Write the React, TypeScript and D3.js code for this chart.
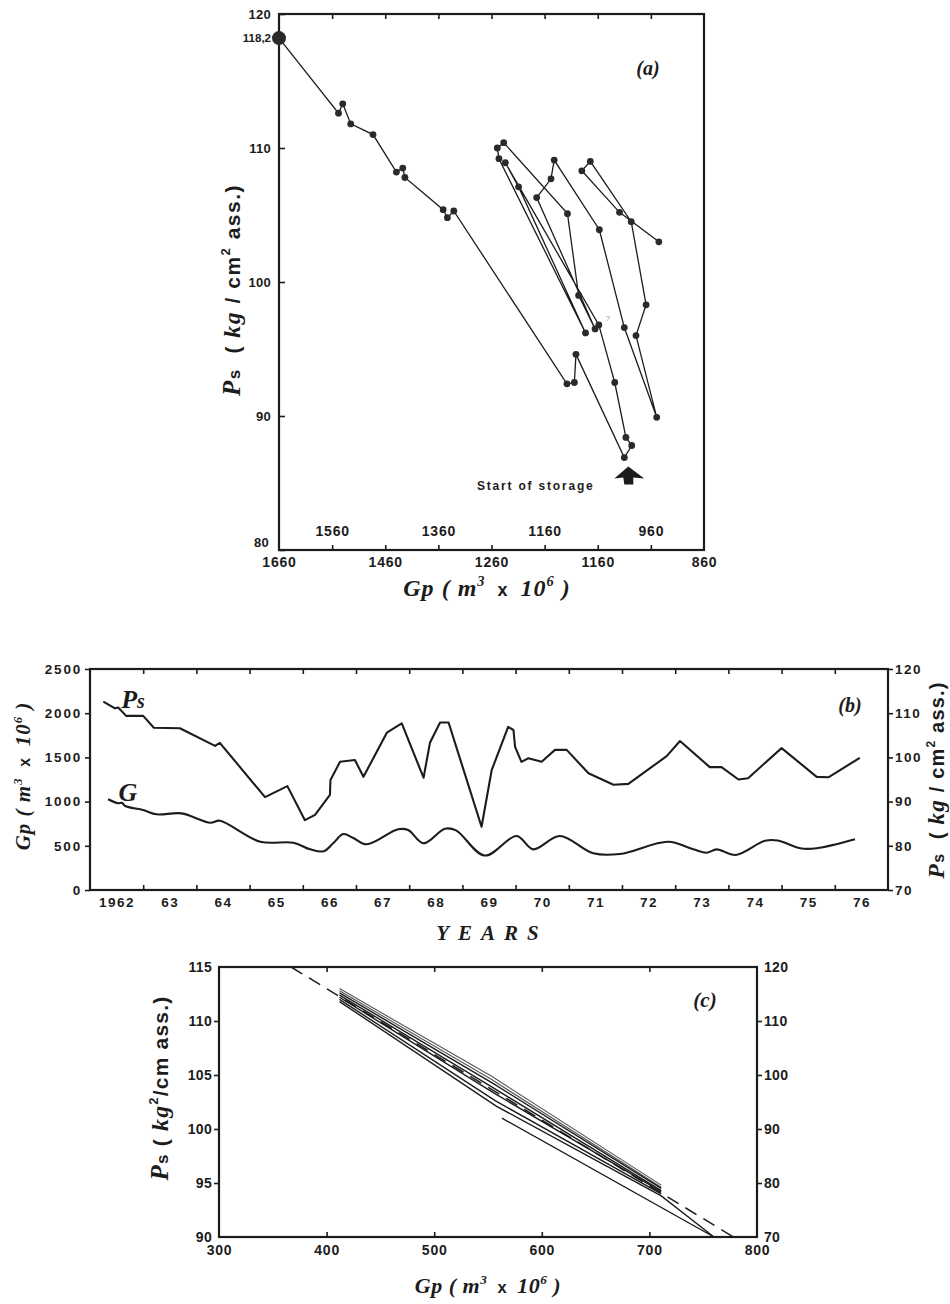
import React, { useEffect, useRef } from 'react';
import * as d3 from 'd3';

const INK = '#1c1c1c';
const SERIF = "'Liberation Serif', 'DejaVu Serif', serif";
const SANS = "'Liberation Sans', 'DejaVu Sans', Arial, sans-serif";

// ---- panel (a): reservoir pressure vs produced gas
// depletion phase, ends at the start of storage
const depletionGp = [1660, 1548, 1540, 1525, 1483, 1439, 1427, 1423, 1351, 1343, 1331, 1118, 1104, 1101, 1010];
const depletionPs = [118.2, 112.6, 113.3, 111.8, 111.0, 108.2, 108.5, 107.8, 105.4, 104.8, 105.3, 92.4, 92.5, 94.6, 86.9];
// storage cycles, continuing from the last depletion point
const storageGp = [996, 1007, 1028, 1058, 1234, 1209, 1083, 1246, 1249, 1237, 1117, 1096, 1065, 1175, 1148, 1142, 1057, 1010, 949, 988, 969, 997, 1074, 1090, 1019, 945];
const storagePs = [87.8, 88.4, 92.5, 96.8, 108.9, 107.1, 96.2, 109.2, 110.0, 110.4, 105.1, 99.0, 96.5, 106.3, 107.7, 109.1, 103.9, 96.6, 89.9, 96.0, 98.3, 104.5, 109.0, 108.3, 105.2, 103.0];
const aTickMarks = [1560, 1460, 1360, 1260, 1160, 1060, 960];
const aBottomTicks = [1660, 1460, 1260, 1060, 860];
const aBottomLabels = ['1660', '1460', '1260', '1160', '860'];
const aInnerTicks = [1560, 1360, 1160, 960];
const aYTicks = [120, 110, 100, 90, 80];

// ---- panel (b): time series
const psYear = [1962.25, 1962.47, 1962.53, 1962.68, 1963.0, 1963.2, 1963.69, 1964.35, 1964.44, 1965.29, 1965.71, 1966.04, 1966.23, 1966.51, 1966.52, 1966.7, 1966.98, 1967.14, 1967.58, 1967.86, 1968.27, 1968.39, 1968.58, 1968.74, 1969.36, 1969.55, 1969.86, 1969.96, 1969.99, 1970.11, 1970.24, 1970.49, 1970.74, 1970.96, 1971.37, 1971.84, 1972.12, 1972.84, 1973.09, 1973.65, 1973.87, 1974.19, 1974.37, 1975.0, 1975.66, 1975.88, 1976.47];
const psValue = [112.6, 111.1, 111.3, 109.4, 109.4, 106.7, 106.6, 102.6, 103.3, 91.0, 93.5, 85.8, 87.0, 91.5, 94.9, 99.0, 99.4, 95.6, 105.6, 107.7, 95.4, 103.3, 107.9, 107.9, 84.3, 97.1, 106.9, 106.2, 102.4, 99.0, 99.8, 99.0, 101.7, 101.7, 96.4, 93.8, 94.0, 100.3, 103.7, 97.8, 97.8, 95.0, 95.3, 102.1, 95.6, 95.5, 99.9];
const gYear = [1962.34, 1962.53, 1962.6, 1962.66, 1963.0, 1963.25, 1963.72, 1964.26, 1964.44, 1965.2, 1965.82, 1966.14, 1966.39, 1966.57, 1966.76, 1966.95, 1967.2, 1967.79, 1967.98, 1968.27, 1968.67, 1968.88, 1969.42, 1970.02, 1970.33, 1970.83, 1971.46, 1971.96, 1972.87, 1973.34, 1973.59, 1973.78, 1974.14, 1974.69, 1974.93, 1975.35, 1975.66, 1976.38];
const gValue = [1026, 981, 987, 950, 905, 856, 867, 761, 784, 546, 535, 460, 438, 528, 633, 588, 517, 687, 679, 528, 693, 675, 390, 611, 460, 611, 415, 407, 546, 460, 422, 460, 396, 558, 560, 472, 472, 573];
const yearLabels = ['1962', '63', '64', '65', '66', '67', '68', '69', '70', '71', '72', '73', '74', '75', '76'];
const bLeftTicks = [0, 500, 1000, 1500, 2000, 2500];
const bRightTicks = [70, 80, 90, 100, 110, 120];

// ---- panel (c): Ps vs Gp for every storage year
const cLineGp = [
  [412, 553, 711],
  [412, 553, 711],
  [412, 555, 711],
  [412, 555, 711],
  [412, 556, 711],
  [412, 557, 711],
  [412, 558, 711, 760],
  [563, 760],
];
const cLinePs = [
  [113.0, 104.9, 94.8],
  [112.8, 104.6, 94.6],
  [112.6, 104.2, 94.5],
  [112.4, 103.8, 94.3],
  [112.2, 103.3, 94.2],
  [112.0, 102.6, 94.0],
  [111.8, 102.1, 93.8, 90.0],
  [101.0, 90.0],
];
const dashGp = [367, 778];
const dashPs = [115, 90];
const cXTicks = [300, 400, 500, 600, 700, 800];
const cLeftTicks = [90, 95, 100, 105, 110, 115];
const cRightTicks = [70, 80, 90, 100, 110, 120];

type Part = { t: string; serif?: boolean; size?: number; dy?: number };

function rich(parent: any, x: number, y: number, rotate: number, size: number, parts: Part[], spacing = 0) {
  const t = parent.append('text')
    .attr('transform', `translate(${x},${y}) rotate(${rotate})`)
    .attr('text-anchor', 'middle')
    .attr('font-family', SANS)
    .attr('font-weight', 'bold')
    .attr('font-size', size)
    .attr('fill', INK)
    .attr('letter-spacing', spacing)
    .style('white-space', 'pre');
  parts.forEach((p) => {
    const s = t.append('tspan').text(p.t);
    if (p.serif) s.attr('font-family', SERIF).attr('font-style', 'italic');
    if (p.size) s.attr('font-size', p.size);
    if (p.dy) s.attr('dy', p.dy);
  });
  return t;
}

function tidy(g: any, size = 13, spacing = 0) {
  g.select('.domain').remove();
  g.selectAll('.tick line').attr('stroke', INK).attr('stroke-width', 1.6);
  g.selectAll('.tick text')
    .attr('fill', INK)
    .attr('font-family', SANS)
    .attr('font-weight', 'bold')
    .attr('font-size', size)
    .attr('letter-spacing', spacing);
}

function frame(parent: any, x0: number, y0: number, x1: number, y1: number) {
  parent.append('rect')
    .attr('x', x0).attr('y', y0)
    .attr('width', x1 - x0).attr('height', y1 - y0)
    .attr('fill', 'none').attr('stroke', INK).attr('stroke-width', 2.2);
}

const gpLabel = (size: number): Part[] => [
  { t: 'Gp', serif: true },
  { t: ' ( ', serif: true },
  { t: 'm', serif: true },
  { t: '3', serif: true, size: size * 0.6, dy: -size * 0.4 },
  { t: '  x  ', size: size * 0.75, dy: size * 0.4 },
  { t: '10', serif: true },
  { t: '6', serif: true, size: size * 0.6, dy: -size * 0.4 },
  { t: ' )', serif: true, dy: size * 0.4 },
];

function drawA(svg: any) {
  const x = d3.scaleLinear().domain([1660, 860]).range([279, 704]);
  const y = d3.scaleLinear().domain([80, 120]).range([550, 14]);
  const g = svg.append('g');

  frame(g, x(1660), y(120), x(860), y(80));

  g.append('g').attr('transform', `translate(0,${y(80)})`)
    .call(d3.axisBottom(x).tickValues(aTickMarks).tickSize(-5).tickFormat(() => ''))
    .call(tidy);
  g.append('g').attr('transform', `translate(0,${y(120)})`)
    .call(d3.axisTop(x).tickValues(aTickMarks).tickSize(-5).tickFormat(() => ''))
    .call(tidy);
  g.append('g').attr('transform', `translate(0,${y(80)})`)
    .call(d3.axisBottom(x).tickValues(aBottomTicks).tickSize(0).tickPadding(7)
      .tickFormat((_d: any, i: number) => aBottomLabels[i]))
    .call((s: any) => tidy(s, 14, 0.8));
  g.append('g').attr('transform', `translate(0,${y(80)})`)
    .call(d3.axisTop(x).tickValues(aInnerTicks).tickSize(0).tickPadding(14).tickFormat(d3.format('d')))
    .call((s: any) => tidy(s, 14, 0.8));
  const left = g.append('g').attr('transform', `translate(${x(1660)},0)`)
    .call(d3.axisLeft(y).tickValues(aYTicks).tickSize(-6).tickPadding(8).tickFormat(d3.format('d')))
    .call((s: any) => tidy(s, 13, 0.3));
  left.selectAll('.tick text').filter((d: any) => d === 80).attr('dy', '-0.3em').attr('x', -10);

  g.append('text')
    .attr('x', x(1660) - 8).attr('y', y(118.2) + 4)
    .attr('text-anchor', 'end')
    .attr('font-family', SANS).attr('font-weight', 'bold').attr('font-size', 11.5)
    .attr('fill', INK).text('118,2');

  const pts = depletionGp.concat(storageGp).map((gp, i) => [gp, depletionPs.concat(storagePs)[i]]);
  const line = d3.line<number[]>().x((d) => x(d[0])).y((d) => y(d[1]));
  g.append('path').attr('d', line(pts)).attr('fill', 'none').attr('stroke', INK).attr('stroke-width', 1.3);
  g.selectAll('circle.pt').data(pts).join('circle')
    .attr('class', 'pt')
    .attr('cx', (d: number[]) => x(d[0])).attr('cy', (d: number[]) => y(d[1]))
    .attr('r', (_d: any, i: number) => (i === 0 ? 7 : 3.4))
    .attr('fill', '#2a2a2a');

  g.append('text')
    .attr('x', 606).attr('y', 321)
    .attr('font-family', SANS).attr('font-size', 7).attr('fill', '#888').text('?');

  // start of storage marker
  g.append('text')
    .attr('x', 477).attr('y', 490)
    .attr('font-family', SANS).attr('font-weight', 'bold').attr('font-size', 12)
    .attr('letter-spacing', 1.8).attr('fill', INK).text('Start of storage');
  const sx = x(1010);
  const sy = y(86.9);
  g.append('path')
    .attr('d', `M${sx + 4},${sy + 9} L${sx - 10},${sy + 21} L${sx - 1},${sy + 20} L${sx},${sy + 27} L${sx + 9},${sy + 27} L${sx + 9},${sy + 20} L${sx + 20},${sy + 21} Z`)
    .attr('fill', INK);

  rich(g, 648, 75, 0, 20, [{ t: '(a)', serif: true }]);
  rich(g, 240, 290, -90, 21, [
    { t: 'P', serif: true, size: 25 },
    { t: 's', size: 17 },
    { t: '  ( ' },
    { t: 'kg', serif: true, size: 24 },
    { t: ' / cm' },
    { t: '2', size: 13, dy: -10 },
    { t: ' ass.)', dy: 10 },
  ], 1.5);
  rich(g, 487, 596, 0, 24, gpLabel(24), 1);
}

function drawB(svg: any) {
  const x = d3.scaleLinear().domain([1962, 1977]).range([90, 888]);
  const yL = d3.scaleLinear().domain([0, 2500]).range([890, 669]);
  const yR = d3.scaleLinear().domain([70, 120]).range([890, 669]);
  const g = svg.append('g');
  const yearMarks = yearLabels.slice(1).map((_l, i) => 1963 + i);

  frame(g, x(1962), yL(2500), x(1977), yL(0));

  g.append('g').attr('transform', `translate(0,${yL(0)})`)
    .call(d3.axisBottom(x).tickValues(yearMarks).tickSize(-5).tickFormat(() => ''))
    .call(tidy);
  g.append('g').attr('transform', `translate(0,${yL(2500)})`)
    .call(d3.axisTop(x).tickValues(yearMarks).tickSize(-5).tickFormat(() => ''))
    .call(tidy);
  g.append('g').attr('transform', `translate(0,${yL(0)})`)
    .call(d3.axisBottom(x).tickValues(yearLabels.map((_l, i) => 1962.5 + i)).tickSize(0).tickPadding(7)
      .tickFormat((_d: any, i: number) => yearLabels[i]))
    .call((s: any) => tidy(s, 13.5, 1.5));
  g.append('g').attr('transform', `translate(${x(1962)},0)`)
    .call(d3.axisLeft(yL).tickValues(bLeftTicks).tickSize(5).tickPadding(3).tickFormat(d3.format('d')))
    .call((s: any) => tidy(s, 13.5, 1.8));
  g.append('g').attr('transform', `translate(${x(1977)},0)`)
    .call(d3.axisRight(yR).tickValues(bRightTicks).tickSize(5).tickPadding(2).tickFormat(d3.format('d')))
    .call((s: any) => tidy(s, 13.5, 1.5));

  const psLine = d3.line<number>().x((d) => x(d)).y((_d, i) => yR(psValue[i]));
  const gLine = d3.line<number>().x((d) => x(d)).y((_d, i) => yL(gValue[i])).curve(d3.curveCatmullRom.alpha(0.5));
  g.append('path').attr('d', psLine(psYear)).attr('fill', 'none').attr('stroke', INK).attr('stroke-width', 2.1).attr('stroke-linejoin', 'round');
  g.append('path').attr('d', gLine(gYear)).attr('fill', 'none').attr('stroke', INK).attr('stroke-width', 2.1).attr('stroke-linejoin', 'round');

  rich(g, 133, 708, 0, 26, [{ t: 'P', serif: true }, { t: 's', serif: true, size: 20 }]);
  rich(g, 128, 801, 0, 26, [{ t: 'G', serif: true }]);
  rich(g, 850, 712, 0, 20, [{ t: '(b)', serif: true }]);
  rich(g, 492, 940, 0, 21, [{ t: 'YEARS', serif: true }], 9);
  rich(g, 30, 776, -90, 21, gpLabel(21), 1);
  rich(g, 944, 780, -90, 20, [
    { t: 'P', serif: true, size: 24 },
    { t: 's', size: 16 },
    { t: '  ( ' },
    { t: 'kg', serif: true, size: 23 },
    { t: ' / cm' },
    { t: '2', size: 12, dy: -9 },
    { t: ' ass.)', dy: 9 },
  ], 1.2);
}

function drawC(svg: any) {
  const x = d3.scaleLinear().domain([300, 800]).range([219, 757]);
  const yL = d3.scaleLinear().domain([90, 115]).range([1237, 967]);
  const yR = d3.scaleLinear().domain([70, 120]).range([1237, 967]);
  const g = svg.append('g');
  const inner = cXTicks.slice(1, -1);

  frame(g, x(300), yL(115), x(800), yL(90));

  g.append('g').attr('transform', `translate(0,${yL(90)})`)
    .call(d3.axisBottom(x).tickValues(inner).tickSize(-5).tickFormat(() => ''))
    .call(tidy);
  g.append('g').attr('transform', `translate(0,${yL(115)})`)
    .call(d3.axisTop(x).tickValues(inner).tickSize(-5).tickFormat(() => ''))
    .call(tidy);
  g.append('g').attr('transform', `translate(0,${yL(90)})`)
    .call(d3.axisBottom(x).tickValues(cXTicks).tickSize(0).tickPadding(8))
    .call((s: any) => tidy(s, 14, 0.8));
  g.append('g').attr('transform', `translate(${x(300)},0)`)
    .call(d3.axisLeft(yL).tickValues(cLeftTicks).tickSize(5).tickPadding(2))
    .call((s: any) => tidy(s, 14, 0.3));
  g.append('g').attr('transform', `translate(${x(800)},0)`)
    .call(d3.axisRight(yR).tickValues(cRightTicks).tickSize(5).tickPadding(2))
    .call((s: any) => tidy(s, 14, 0.3));
  g.selectAll('.tick line').filter(function (this: any) {
    const p = (this.parentNode as SVGGElement).getAttribute('transform') || '';
    return p.includes(',967') || p.includes(',1237');
  }).attr('stroke', 'none');

  const line = d3.line<number>().x((d) => x(d));
  g.append('path')
    .attr('d', line.y((_d, i) => yL(dashPs[i]))(dashGp))
    .attr('fill', 'none').attr('stroke', INK).attr('stroke-width', 1.5).attr('stroke-dasharray', '13,8');
  cLineGp.forEach((gps, k) => {
    g.append('path')
      .attr('d', d3.line<number>().x((d) => x(d)).y((_d, i) => yL(cLinePs[k][i]))(gps))
      .attr('fill', 'none').attr('stroke', k < 2 ? '#555' : INK)
      .attr('stroke-width', k < 2 ? 1.1 : 1.4);
  });

  rich(g, 705, 1007, 0, 21, [{ t: '(c)', serif: true }]);
  rich(g, 168, 1088, -90, 21, [
    { t: 'P', serif: true, size: 25 },
    { t: 's', size: 17 },
    { t: ' ( ' },
    { t: 'kg', serif: true, size: 24 },
    { t: '2', size: 13, dy: -10 },
    { t: '/cm ass.)', dy: 10 },
  ], 1.2);
  rich(g, 488, 1293, 0, 22, gpLabel(22), 0.5);
}

export default function App() {
  const ref = useRef<SVGSVGElement>(null);

  useEffect(() => {
    if (!ref.current) return;
    const svg = d3.select(ref.current);
    svg.selectAll('*').remove();
    svg.append('rect').attr('width', 950).attr('height', 1304).attr('fill', '#fff');
    drawA(svg);
    drawB(svg);
    drawC(svg);
  }, []);

  return (
    <div style={{ position: 'absolute', left: 0, top: 0 }}>
      <svg ref={ref} width={950} height={1304} style={{ display: 'block' }} />
    </div>
  );
}
